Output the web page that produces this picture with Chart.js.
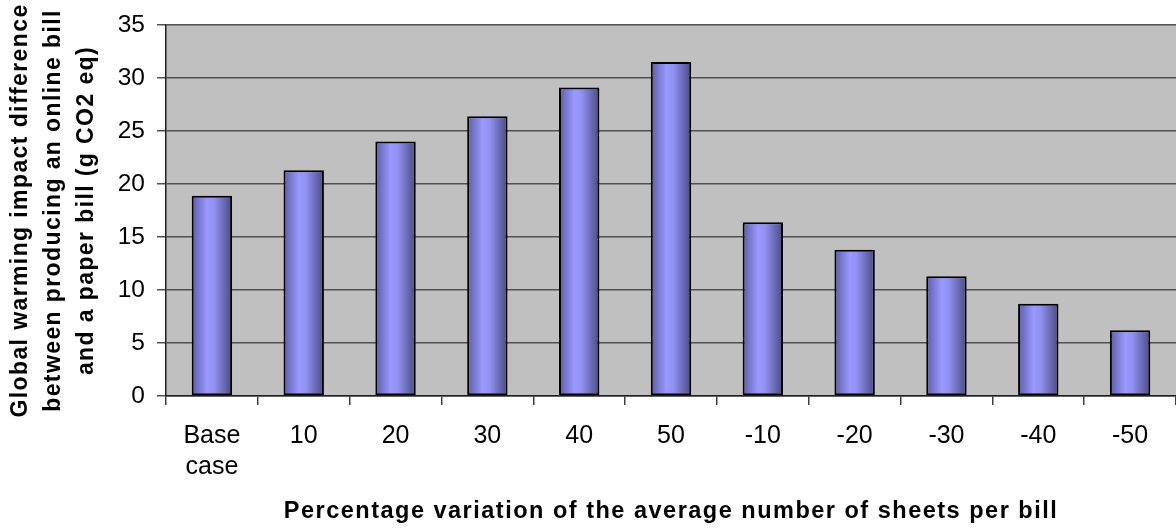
<!DOCTYPE html>
<html>
<head>
<meta charset="utf-8">
<script src="https://cdn.jsdelivr.net/npm/chart.js@4.4.1/dist/chart.umd.min.js"></script>
<style>
  html, body { margin: 0; padding: 0; background: #ffffff; }
  #wrap { width: 1176px; height: 529px; }
</style>
</head>
<body>
<div id="wrap"><canvas id="c" width="1176" height="529"></canvas></div>
<script>
// Percentage variation of sheets per bill
const categories = [['Base', 'case'], '10', '20', '30', '40', '50', '-10', '-20', '-30', '-40', '-50'];
// Global warming impact difference, g CO2 eq
const impactValues = [18.9, 21.3, 24.0, 26.4, 29.1, 31.5, 16.4, 13.8, 11.3, 8.7, 6.2];
const yTitleLines = ['Global warming impact difference', 'between producing an online bill', 'and a paper bill (g CO2 eq)'];
const xTitle = 'Percentage variation of the average number of sheets per bill';

const FONT = "'Liberation Sans', Arial, Helvetica, sans-serif";
const BAR_PCT = 0.44;

// grey plotting area
const plotBackground = {
  id: 'plotBackground',
  beforeDraw(chart) {
    const { ctx, chartArea: a } = chart;
    ctx.save();
    ctx.fillStyle = '#c0c0c0';
    ctx.fillRect(a.left, a.top, a.right - a.left, a.bottom - a.top);
    ctx.restore();
  }
};

// cylinder-like horizontal shading for each bar, built once bar positions are known
const barShading = {
  id: 'barShading',
  beforeDatasetsDraw(chart) {
    const ctx = chart.ctx;
    chart.getDatasetMeta(0).data.forEach(el => {
      const { x, width } = el.getProps(['x', 'width'], true);
      if (!isFinite(x) || !isFinite(width)) return;
      const g = ctx.createLinearGradient(x - width / 2, 0, x + width / 2, 0);
      g.addColorStop(0, '#5c5ca4');
      g.addColorStop(0.38, '#9999ff');
      g.addColorStop(0.55, '#9292f2');
      g.addColorStop(1, '#4a4a84');
      el.options = Object.assign({}, el.options, { backgroundColor: g });
    });
  }
};

// axis titles are set with a little extra tracking
function spacedTitle(scale, spacing) {
  if (scale._spacedTitle) return;
  scale._spacedTitle = true;
  const draw = scale.drawTitle;
  scale.drawTitle = function () {
    this.ctx.save();
    this.ctx.letterSpacing = spacing;
    draw.call(this);
    this.ctx.restore();
  };
}

const chart = new Chart(document.getElementById('c'), {
  type: 'bar',
  data: {
    labels: categories,
    datasets: [{
      data: impactValues,
      backgroundColor: '#9999ff',
      borderColor: '#000000',
      borderWidth: 2,
      borderSkipped: false,
      barPercentage: BAR_PCT,
      categoryPercentage: 1
    }]
  },
  options: {
    responsive: false,
    animation: false,
    devicePixelRatio: 1,
    layout: { padding: { top: 25, right: 0, bottom: 0, left: 0 } },
    plugins: { legend: { display: false }, tooltip: { enabled: false } },
    scales: {
      x: {
        offset: true,
        grid: { display: true, drawOnChartArea: false, drawTicks: true, tickLength: 9, color: '#404040', lineWidth: 1.5 },
        border: { display: true, color: '#202020', width: 1.5 },
        ticks: { color: '#000', padding: 16, maxRotation: 0, autoSkip: false, font: { family: FONT, size: 25, lineHeight: 1.24 } },
        title: { display: true, text: xTitle, color: '#000', padding: { top: 0, bottom: 3 }, font: { family: FONT, size: 23.5, weight: 'bold', lineHeight: 1.2 } },
        afterFit(scale) {
          scale.height = 133;
          scale.paddingLeft = 0; scale.paddingRight = 0;
          spacedTitle(scale, '1.5px');
        }
      },
      y: {
        min: 0, max: 35,
        grid: { color: '#505050', lineWidth: 1.5, tickLength: 9 },
        border: { display: true, color: '#202020', width: 1.5 },
        ticks: { stepSize: 5, color: '#000', padding: 12, font: { family: FONT, size: 24.5 } },
        title: { display: true, text: yTitleLines, color: '#000', padding: { top: 4, bottom: 0 }, font: { family: FONT, size: 23, weight: 'bold', lineHeight: 1.44 } },
        afterFit(scale) {
          scale.width = 166;
          scale.paddingTop = 0; scale.paddingBottom = 0;
          spacedTitle(scale, '1.4px');
        }
      }
    }
  },
  plugins: [plotBackground, barShading]
});
</script>
</body>
</html>
